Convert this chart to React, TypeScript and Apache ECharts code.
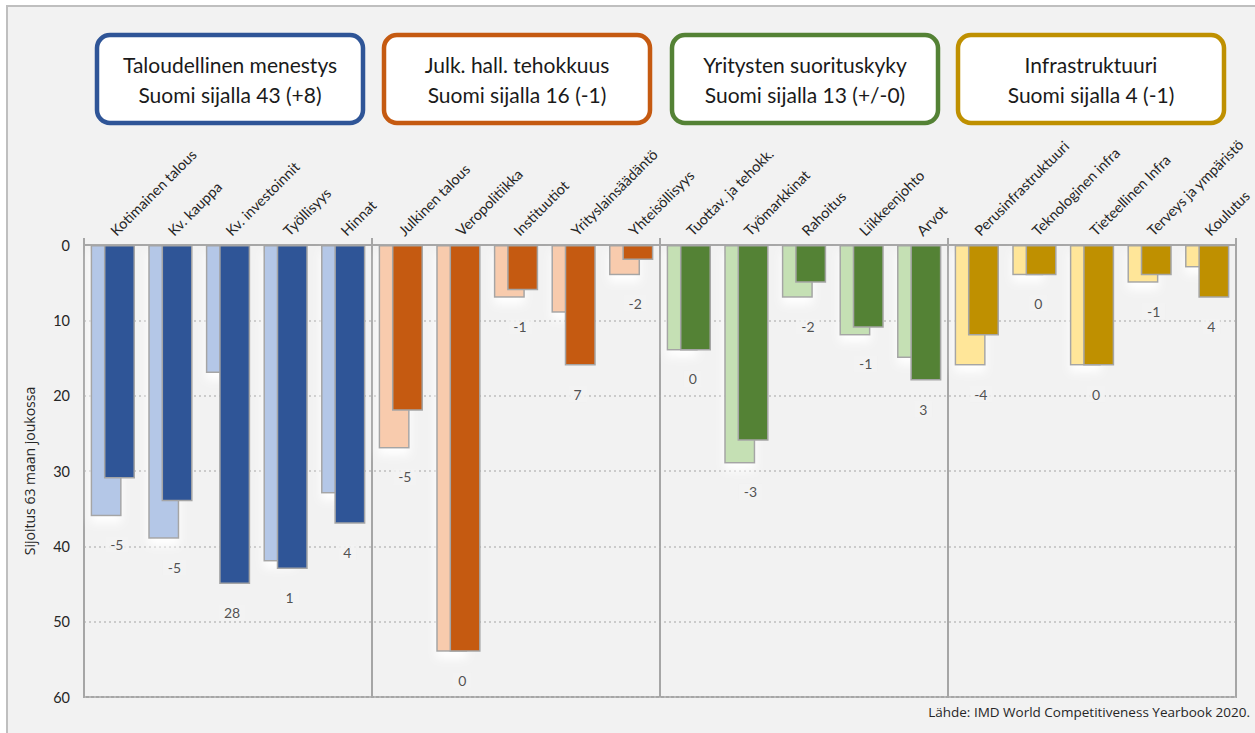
import React, { useEffect, useRef } from "react";
import * as echarts from "echarts";

const categories = [
  "Kotimainen talous", "Kv. kauppa", "Kv. investoinnit", "Työllisyys", "Hinnat",
  "Julkinen talous", "Veropolitiikka", "Instituutiot", "Yrityslainsäädäntö", "Yhteisöllisyys",
  "Tuottav. ja tehokk.", "Työmarkkinat", "Rahoitus", "Liikkeenjohto", "Arvot",
  "Perusinfrastruktuuri", "Teknologinen infra", "Tieteellinen Infra", "Terveys ja ympäristö", "Koulutus",
];
const rank2019 = [36, 39, 17, 42, 33, 27, 54, 7, 9, 4, 14, 29, 7, 12, 15, 16, 4, 16, 5, 3];
const rank2020 = [31, 34, 45, 43, 37, 22, 54, 6, 16, 2, 14, 26, 5, 11, 18, 12, 4, 16, 4, 7];
const changeLabels = ["-5", "-5", "28", "1", "4", "-5", "0", "-1", "7", "-2", "0", "-3", "-2", "-1", "3", "-4", "0", "0", "-1", "4"];
const yTicks = [0, 10, 20, 30, 40, 50, 60];
const groupTitles = ["Taloudellinen menestys", "Julk. hall. tehokkuus", "Yritysten suorituskyky", "Infrastruktuuri"];
const groupRanks = ["Suomi sijalla 43 (+8)", "Suomi sijalla 16 (-1)", "Suomi sijalla 13 (+/-0)", "Suomi sijalla 4 (-1)"];
const yAxisTitle = "Sijoitus 63 maan joukossa";
const sourceText = "Lähde: IMD World Competitiveness Yearbook 2020.";

const darkColors = ["#2F5597", "#C55A11", "#548235", "#BF9000"];
const lightColors = ["#B4C7E7", "#F8CBAD", "#C5E0B4", "#FFE699"];
const boxLeft = [97, 384, 672, 958];
const FONT = "Lato, 'Open Sans', sans-serif";
const TEXT = "#262626";

export default function App() {
  const ref = useRef<HTMLDivElement>(null);
  useEffect(() => {
    if (!ref.current) return;
    const chart = echarts.init(ref.current, undefined, { renderer: "svg" });
    const groupOf = (i: number) => Math.floor(i / 5);
    const borderStyle = { borderColor: "#A5A5A5", borderWidth: 1.5 };

    const graphics: any[] = [
      {
        type: "rect",
        shape: { x: 7, y: 6, width: 1260, height: 740 },
        style: { fill: "#F2F2F2", stroke: "#BFBFBF", lineWidth: 2 },
        z: -10,
        silent: true,
      },
    ];
    groupTitles.forEach((t, g) => {
      graphics.push({
        type: "rect",
        shape: { x: boxLeft[g], y: 35, width: 266, height: 88, r: 13 },
        style: { fill: "#FFFFFF", stroke: darkColors[g], lineWidth: 4.5 },
        z: 10,
      });
      graphics.push({
        type: "text",
        x: boxLeft[g] + 133,
        y: 79,
        style: {
          text: t + "\n" + groupRanks[g],
          font: `21px ${FONT}`,
          fill: "#1A1A1A",
          align: "center",
          verticalAlign: "middle",
          lineHeight: 30,
        },
        z: 11,
      });
    });
    graphics.push({
      type: "text",
      right: 5,
      top: 705,
      style: { text: sourceText, font: `13.5px 'Open Sans', sans-serif`, fill: TEXT },
    });

    const option: any = {
      animation: false,
      backgroundColor: "#FFFFFF",
      textStyle: { fontFamily: FONT },
      graphic: graphics,
      grid: {
        left: 84,
        right: 19,
        top: 245,
        bottom: 36,
        show: true,
        borderColor: "#A6A6A6",
        borderWidth: 2,
        backgroundColor: "transparent",
      },
      xAxis: {
        type: "category",
        position: "top",
        data: categories,
        axisLine: { show: true, lineStyle: { color: "#A6A6A6", width: 2 } },
        axisTick: {
          show: true,
          interval: (idx: number) => idx % 5 === 0,
          length: 7,
          lineStyle: { color: "#A6A6A6", width: 2 },
        },
        splitLine: {
          show: true,
          interval: (idx: number) => idx % 5 === 0,
          lineStyle: { color: "#A6A6A6", width: 2 },
        },
        axisLabel: {
          interval: 0,
          rotate: 45,
          margin: 12,
          fontSize: 14.5,
          color: TEXT,
          fontFamily: FONT,
        },
      },
      yAxis: {
        type: "value",
        inverse: true,
        min: 0,
        max: 60,
        interval: 10,
        name: yAxisTitle,
        nameLocation: "middle",
        nameRotate: 90,
        nameGap: 48,
        nameTextStyle: { fontSize: 14, color: TEXT, fontFamily: "'Open Sans', sans-serif" },
        axisLine: { show: true, lineStyle: { color: "#A6A6A6", width: 2 } },
        axisTick: { show: false },
        axisLabel: {
          margin: 14,
          fontSize: 14.5,
          color: TEXT,
          formatter: (v: number) => (yTicks.includes(v) ? String(v) : ""),
        },
        splitLine: {
          show: true,
          lineStyle: { color: "#BFBFBF", type: [2, 3], width: 1.5 },
        },
      },
      series: [
        {
          name: "2019",
          type: "bar",
          barWidth: 31,
          barGap: "-57%",
          z: 2,
          data: rank2019.map((v, i) => ({
            value: v,
            itemStyle: {
              color: lightColors[groupOf(i)],
              ...borderStyle,
              shadowColor: "rgba(255,255,255,1)",
              shadowBlur: 10,
              shadowOffsetY: 7,
            },
          })),
        },
        {
          name: "2020",
          type: "bar",
          barWidth: 31,
          barGap: "-57%",
          z: 3,
          data: rank2020.map((v, i) => ({
            value: v,
            itemStyle: { color: darkColors[groupOf(i)], ...borderStyle },
          })),
        },
        {
          name: "muutos",
          type: "scatter",
          symbolSize: 1,
          z: 5,
          itemStyle: { color: "rgba(0,0,0,0)" },
          data: categories.map((c, i) => [c, Math.max(rank2019[i], rank2020[i])]),
          label: {
            show: true,
            position: "bottom",
            distance: 20,
            offset: [4, 0],
            fontSize: 14,
            color: TEXT,
            textBorderWidth: 0,
            fontFamily: FONT,
            backgroundColor: "#F2F2F2",
            padding: [1, 5],
            formatter: (p: any) => changeLabels[p.dataIndex],
          },
        },
      ],
    };
    chart.setOption(option);
    return () => chart.dispose();
  }, []);
  return (
    <div
      ref={ref}
      style={{ position: "fixed", left: 0, top: 0, width: 1255, height: 733 }}
    />
  );
}
